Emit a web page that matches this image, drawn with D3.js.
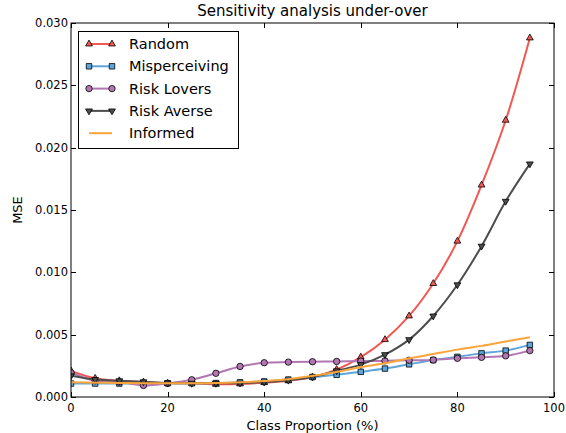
<!DOCTYPE html>
<html><head><meta charset="utf-8">
<script src="https://cdn.jsdelivr.net/npm/d3@7"></script>
<style>body{margin:0;background:#fff}svg{font-family:"DejaVu Sans",sans-serif}</style>
</head><body><svg id="c" width="566" height="433"></svg>
<script>
const xValues = [0,5,10,15,20,25,30,35,40,45,50,55,60,65,70,75,80,85,90,95];
const random       = [0.0021,0.0015,0.0013,0.0012,0.0011,0.0011,0.00102,0.00105,0.00115,0.0013,0.0016,0.0022,0.0032,0.0046,0.0065,0.0091,0.0125,0.0170,0.0222,0.0288];
const misperceiving= [0.00108,0.00108,0.00108,0.0011,0.0011,0.0011,0.00112,0.00118,0.00125,0.0014,0.0016,0.00178,0.00202,0.00228,0.00262,0.00296,0.00322,0.0035,0.00372,0.00418];
const riskLovers   = [0.00195,0.0013,0.0012,0.00093,0.0011,0.00138,0.0019,0.00245,0.00275,0.0028,0.00283,0.00285,0.00288,0.0029,0.00295,0.00297,0.0031,0.00318,0.0033,0.00372];
const riskAverse   = [0.0017,0.0014,0.0013,0.00122,0.00113,0.0011,0.0011,0.00112,0.0012,0.00135,0.0016,0.0021,0.0026,0.0034,0.0046,0.0065,0.0090,0.0121,0.0157,0.0187];
const informed     = [0.00118,0.00115,0.00112,0.0011,0.0011,0.0011,0.00112,0.00118,0.00128,0.00142,0.0017,0.0020,0.0024,0.0027,0.0031,0.00345,0.0038,0.0041,0.00445,0.0048];
const seriesNames = ["Random","Misperceiving","Risk Lovers","Risk Averse","Informed"];
const xTicks = [0,20,40,60,80,100];
const yTicks = [0,0.005,0.010,0.015,0.020,0.025,0.030];

const series = [
  {name:seriesNames[0], values:random, color:"#F15854", marker:"triangle"},
  {name:seriesNames[1], values:misperceiving, color:"#5DA5DA", marker:"square"},
  {name:seriesNames[2], values:riskLovers, color:"#B276B2", marker:"circle"},
  {name:seriesNames[3], values:riskAverse, color:"#4D4D4D", marker:"triangleDown"},
  {name:seriesNames[4], values:informed, color:"#FAA43A", marker:null}
];

const svg = d3.select("#c");
const L=71,R=554,T=23,B=397;
const x = d3.scaleLinear().domain([0,100]).range([L,R]);
const y = d3.scaleLinear().domain([0,0.030]).range([B,T]);

svg.append("defs").append("clipPath").attr("id","clip").append("rect")
  .attr("x",L).attr("y",T).attr("width",R-L).attr("height",B-T);

const g = svg.append("g").attr("clip-path","url(#clip)");
const line = d3.line().x((d,i)=>x(xValues[i])).y(d=>y(d)).curve(d3.curveCatmullRom.alpha(0.5));

function markerPath(type){
  if(type==="triangle") return d3.symbol(d3.symbolTriangle,20)();
  if(type==="triangleDown") return d3.symbol(d3.symbolTriangle,20)();
  if(type==="square") return d3.symbol(d3.symbolSquare,30)();
  if(type==="circle") return d3.symbol(d3.symbolCircle,32)();
}

series.forEach(s=>{
  g.append("path").attr("d",line(s.values)).attr("fill","none")
    .attr("stroke",s.color).attr("stroke-width",2);
  if(s.marker){
    g.selectAll(null).data(s.values).enter().append("path")
      .attr("d",markerPath(s.marker))
      .attr("transform",(d,i)=>`translate(${x(xValues[i])},${y(d)})${s.marker==="triangleDown"?" rotate(180)":""}`)
      .attr("fill",s.color).attr("stroke","#000").attr("stroke-width",0.8);
  }
});

// axes frame
svg.append("rect").attr("x",L).attr("y",T).attr("width",R-L).attr("height",B-T)
  .attr("fill","none").attr("stroke","#000").attr("stroke-width",1);

const ax = svg.append("g").attr("font-size",11.5).attr("fill","#000");
xTicks.forEach(t=>{
  const px = Math.round(x(t))+0.5;
  ax.append("line").attr("x1",px).attr("x2",px).attr("y1",B).attr("y2",B-5).attr("stroke","#000");
  ax.append("line").attr("x1",px).attr("x2",px).attr("y1",T).attr("y2",T+5).attr("stroke","#000");
  ax.append("text").attr("x",x(t)).attr("y",B+15).attr("text-anchor","middle").text(d3.format("d")(t));
});
yTicks.forEach(t=>{
  const py = Math.round(y(t))+0.5;
  ax.append("line").attr("x1",L).attr("x2",L+5).attr("y1",py).attr("y2",py).attr("stroke","#000");
  ax.append("line").attr("x1",R).attr("x2",R-5).attr("y1",py).attr("y2",py).attr("stroke","#000");
  ax.append("text").attr("x",L-3).attr("y",y(t)+4).attr("text-anchor","end").text(d3.format(".3f")(t));
});

svg.append("text").attr("x",(L+R)/2).attr("y",16).attr("text-anchor","middle").attr("font-size",15).text("Sensitivity analysis under-over");
svg.append("text").attr("x",(L+R)/2).attr("y",430).attr("text-anchor","middle").attr("font-size",13).text("Class Proportion (%)");
svg.append("text").attr("transform",`translate(22,${(T+B)/2}) rotate(-90)`).attr("text-anchor","middle").attr("font-size",13).text("MSE");

// legend
const lg = svg.append("g");
lg.append("rect").attr("x",78.5).attr("y",31.5).attr("width",160).attr("height",117).attr("fill","#fff").attr("stroke","#000");
series.forEach((s,i)=>{
  const yy = 44 + i*22.3;
  lg.append("line").attr("x1",89).attr("x2",112).attr("y1",yy).attr("y2",yy).attr("stroke",s.color).attr("stroke-width",2);
  if(s.marker){
    [89,112].forEach(xx=>{
      lg.append("path").attr("d",markerPath(s.marker))
        .attr("transform",`translate(${xx},${yy})${s.marker==="triangleDown"?" rotate(180)":""}`)
        .attr("fill",s.color).attr("stroke","#000").attr("stroke-width",0.8);
    });
  }
  lg.append("text").attr("x",129).attr("y",yy+5).attr("font-size",14.5).text(s.name);
});
</script></body></html>
